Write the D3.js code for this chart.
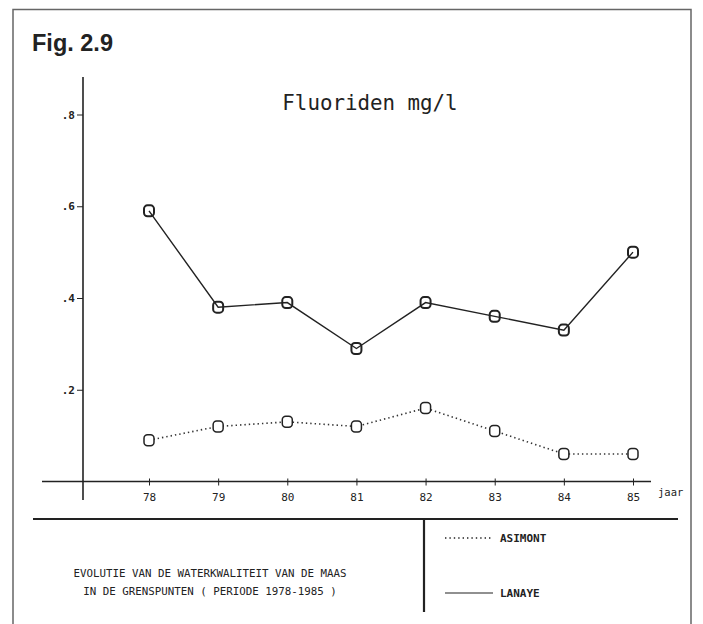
<!DOCTYPE html>
<html>
<head>
<meta charset="utf-8">
<script src="https://cdn.jsdelivr.net/npm/d3@7"></script>
<style>
  body { margin: 0; background: #fff; }
  svg text { fill: #222; }
  .mono { font-family: "DejaVu Sans Mono", monospace; }
</style>
</head>
<body>
<div id="chart"></div>
<script>
// data
var years = [78, 79, 80, 81, 82, 83, 84, 85];
var lanaye = [0.59, 0.38, 0.39, 0.29, 0.39, 0.36, 0.33, 0.50];
var asimont = [0.09, 0.12, 0.13, 0.12, 0.16, 0.11, 0.06, 0.06];
var yTicks = [0.2, 0.4, 0.6, 0.8];
var seriesNames = ['ASIMONT', 'LANAYE'];

var width = 703;
var height = 624;

var svg = d3.select('#chart')
  .append('svg')
  .attr('width', width)
  .attr('height', height);

var x = d3.scaleLinear().domain([78, 85]).range([149, 633]);
var y = d3.scaleLinear().domain([0, 0.8]).range([481.5, 114.5]);

// frame
svg.append('path')
  .attr('d', 'M13,640V9.5H691V640')
  .attr('fill', 'none')
  .attr('stroke', '#666')
  .attr('stroke-width', 1.5);

svg.append('text')
  .attr('x', 32)
  .attr('y', 51)
  .style('font-family', '"Liberation Sans", Arial, sans-serif')
  .style('font-weight', 'bold')
  .style('font-size', '23.5px')
  .text('Fig. 2.9');

svg.append('text')
  .attr('class', 'mono')
  .attr('x', 370)
  .attr('y', 110)
  .attr('text-anchor', 'middle')
  .style('font-size', '20.8px')
  .text('Fluoriden mg/l');

// axes lines
svg.append('line')
  .attr('x1', 83).attr('x2', 83)
  .attr('y1', 77).attr('y2', 500)
  .attr('stroke', '#222').attr('stroke-width', 1.6);
svg.append('line')
  .attr('x1', 42).attr('x2', 651)
  .attr('y1', y(0)).attr('y2', y(0))
  .attr('stroke', '#222').attr('stroke-width', 1.4);

var yAxis = d3.axisLeft(y)
  .tickValues(yTicks)
  .tickSize(6)
  .tickPadding(2)
  .tickFormat(function(d) { return d3.format('.1f')(d).replace(/^0/, ''); });

var gy = svg.append('g')
  .attr('transform', 'translate(83,0)')
  .call(yAxis);
gy.select('.domain').remove();
gy.selectAll('line').attr('stroke', '#222');
gy.selectAll('text')
  .style('font-size', '11px')
  .style('font-weight', 'bold')
  .style('font-family', '"DejaVu Sans Mono", monospace');

var xAxis = d3.axisBottom(x)
  .tickValues(years)
  .tickSize(4)
  .tickPadding(8)
  .tickFormat(d3.format('d'));

var gx = svg.append('g')
  .attr('transform', 'translate(0,' + y(0) + ')')
  .call(xAxis);
gx.select('.domain').remove();
gx.selectAll('line').attr('y1', -3).attr('stroke', '#222');
gx.selectAll('text')
  .style('font-size', '11px')
  .style('font-family', '"DejaVu Sans Mono", monospace');

svg.append('text')
  .attr('class', 'mono')
  .attr('x', 658)
  .attr('y', 496)
  .style('font-size', '10.5px')
  .text('jaar');

// series
var line = d3.line()
  .x(function(d, i) { return x(years[i]); })
  .y(function(d) { return y(d); });

svg.append('path')
  .datum(asimont)
  .attr('d', line)
  .attr('fill', 'none')
  .attr('stroke', '#333')
  .attr('stroke-width', 1.6)
  .attr('stroke-dasharray', '1.4,3');

svg.append('path')
  .datum(lanaye)
  .attr('d', line)
  .attr('fill', 'none')
  .attr('stroke', '#222')
  .attr('stroke-width', 1.4);

function markers(data, cls, dark) {
  svg.selectAll('rect.' + cls)
    .data(data)
    .enter()
    .append('rect')
    .attr('class', cls)
    .attr('x', function(d, i) { return x(years[i]) - 5; })
    .attr('y', function(d) { return y(d) - 5.5; })
    .attr('width', 10)
    .attr('height', 11)
    .attr('rx', 3.5)
    .attr('fill', dark ? 'none' : '#fff')
    .attr('stroke', '#222')
    .attr('stroke-width', dark ? 2 : 1.5);
}
markers(asimont, 'mA', false);
markers(lanaye, 'mL', true);

// lower panel
svg.append('line')
  .attr('x1', 33).attr('x2', 678)
  .attr('y1', 519).attr('y2', 519)
  .attr('stroke', '#222').attr('stroke-width', 2.2);
svg.append('line')
  .attr('x1', 424).attr('x2', 424)
  .attr('y1', 519).attr('y2', 612)
  .attr('stroke', '#222').attr('stroke-width', 2.2);

var legendY = [538, 593];
var legend = svg.selectAll('g.legend')
  .data(seriesNames)
  .enter()
  .append('g')
  .attr('class', 'legend')
  .attr('transform', function(d, i) { return 'translate(445,' + legendY[i] + ')'; });
legend.append('line')
  .attr('x1', 0).attr('x2', 48)
  .attr('stroke', '#222')
  .attr('stroke-width', function(d, i) { return i === 0 ? 1.4 : 1.2; })
  .attr('stroke-dasharray', function(d, i) { return i === 0 ? '1.4,3' : null; });
legend.append('text')
  .attr('class', 'mono')
  .attr('x', 55)
  .attr('y', 4)
  .style('font-size', '11px')
  .style('font-weight', 'bold')
  .text(function(d) { return d; });

var caption = [
  'EVOLUTIE VAN DE WATERKWALITEIT VAN DE MAAS',
  'IN DE GRENSPUNTEN ( PERIODE 1978-1985 )'
];
svg.selectAll('text.caption')
  .data(caption)
  .enter()
  .append('text')
  .attr('class', 'caption mono')
  .attr('x', 210)
  .attr('y', function(d, i) { return 577 + i * 18; })
  .attr('text-anchor', 'middle')
  .style('font-size', '10.8px')
  .text(function(d) { return d; });
</script>
</body>
</html>
